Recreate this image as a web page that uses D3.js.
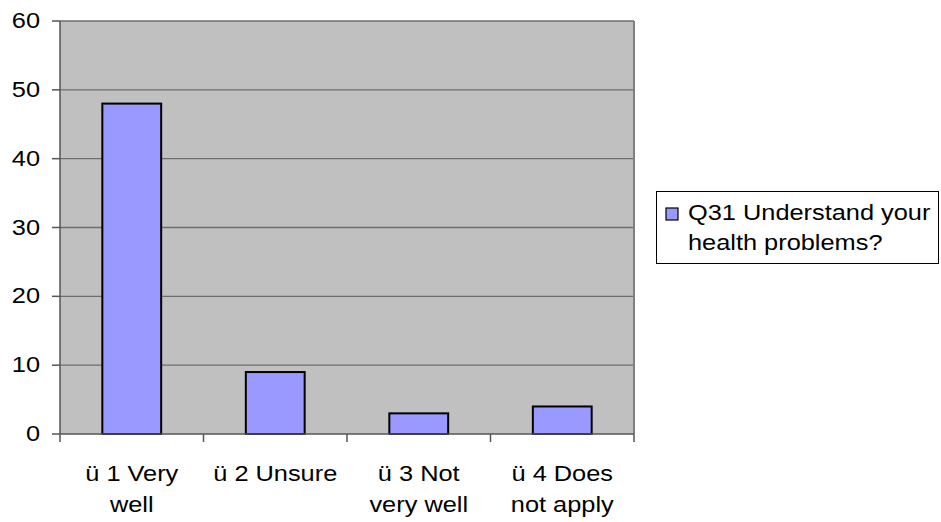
<!DOCTYPE html>
<html>
<head>
<meta charset="utf-8">
<script src="https://cdn.jsdelivr.net/npm/d3@7"></script>
<style>
body { margin: 0; background: #fff; }
text { font-family: "Liberation Sans", Arial, sans-serif; fill: #000; }
</style>
</head>
<body>
<div id="chart"></div>
<script>
var width = 941, height = 522;
var categories = [["ü 1 Very", "well"], ["ü 2 Unsure"], ["ü 3 Not", "very well"], ["ü 4 Does", "not apply"]];
var values = [48, 9, 3, 4];
var yTicks = [0, 10, 20, 30, 40, 50, 60];
var seriesName = ["Q31 Understand your", "health problems?"];

var plotL = 60, plotR = 634, plotT = 21, plotB = 434;
var fontSize = 21.5, stretch = 1.18;   // text in the picture is a bit wider than normal

const svg = d3.select("#chart").append("svg")
  .attr("width", width).attr("height", height);

var x = d3.scaleBand().domain(d3.range(categories.length))
  .range([plotL, plotR]).paddingInner(0.59).paddingOuter(0.295);
var y = d3.scaleLinear().domain([0, 60]).range([plotB, plotT]);

// stretched text helper
function label(px, py, str, anchor) {
  svg.append("g").attr("transform", "translate(" + px + "," + py + ") scale(" + stretch + ",1)")
    .append("text").attr("text-anchor", anchor).style("font-size", fontSize + "px")
    .text(str);
}

// plot background
svg.append("rect").attr("x", plotL).attr("y", plotT)
  .attr("width", plotR - plotL).attr("height", plotB - plotT)
  .style("fill", "#c0c0c0");

// gridlines
svg.selectAll("line.grid").data(yTicks.slice(1)).enter().append("line")
  .attr("x1", plotL).attr("x2", plotR)
  .attr("y1", d => y(d)).attr("y2", d => y(d))
  .style("stroke", "#6e6e6e").style("stroke-width", 1.3);

// right border
svg.append("line").attr("x1", plotR).attr("x2", plotR).attr("y1", plotT).attr("y2", plotB)
  .style("stroke", "#808080").style("stroke-width", 2);

// bars
svg.selectAll("rect.bar").data(values).enter().append("rect")
  .attr("x", (d, i) => x(i)).attr("width", x.bandwidth())
  .attr("y", d => y(d)).attr("height", d => plotB - y(d))
  .style("fill", "#9999ff").style("stroke", "#000").style("stroke-width", 2);

// y axis
svg.append("line").attr("x1", plotL).attr("x2", plotL).attr("y1", plotT).attr("y2", plotB)
  .style("stroke", "#555").style("stroke-width", 1.5);
svg.selectAll("line.ytick").data(yTicks).enter().append("line")
  .attr("x1", plotL - 8).attr("x2", plotL)
  .attr("y1", d => y(d)).attr("y2", d => y(d))
  .style("stroke", "#555").style("stroke-width", 1.5);
yTicks.forEach(d => label(40, y(d) + 7, d, "end"));

// x axis
svg.append("line").attr("x1", plotL).attr("x2", plotR).attr("y1", plotB).attr("y2", plotB)
  .style("stroke", "#555").style("stroke-width", 1.5);
var step = x.step();
svg.selectAll("line.xtick").data(d3.range(categories.length + 1)).enter().append("line")
  .attr("x1", i => plotL + i * step).attr("x2", i => plotL + i * step)
  .attr("y1", plotB).attr("y2", plotB + 8)
  .style("stroke", "#555").style("stroke-width", 1.5);

categories.forEach(function(lines, i) {
  var cx = x(i) + x.bandwidth() / 2;
  lines.forEach((t, j) => label(cx, 481 + j * 31, t, "middle"));
});

// legend
svg.append("rect").attr("x", 656.5).attr("y", 191.5).attr("width", 282).attr("height", 72)
  .style("fill", "#fff").style("stroke", "#000").style("stroke-width", 1);
svg.append("rect").attr("x", 666).attr("y", 208).attr("width", 12).attr("height", 12)
  .style("fill", "#9999ff").style("stroke", "#000").style("stroke-width", 1.2);
seriesName.forEach((t, j) => label(688, 220 + j * 30, t, "start"));
</script>
</body>
</html>
